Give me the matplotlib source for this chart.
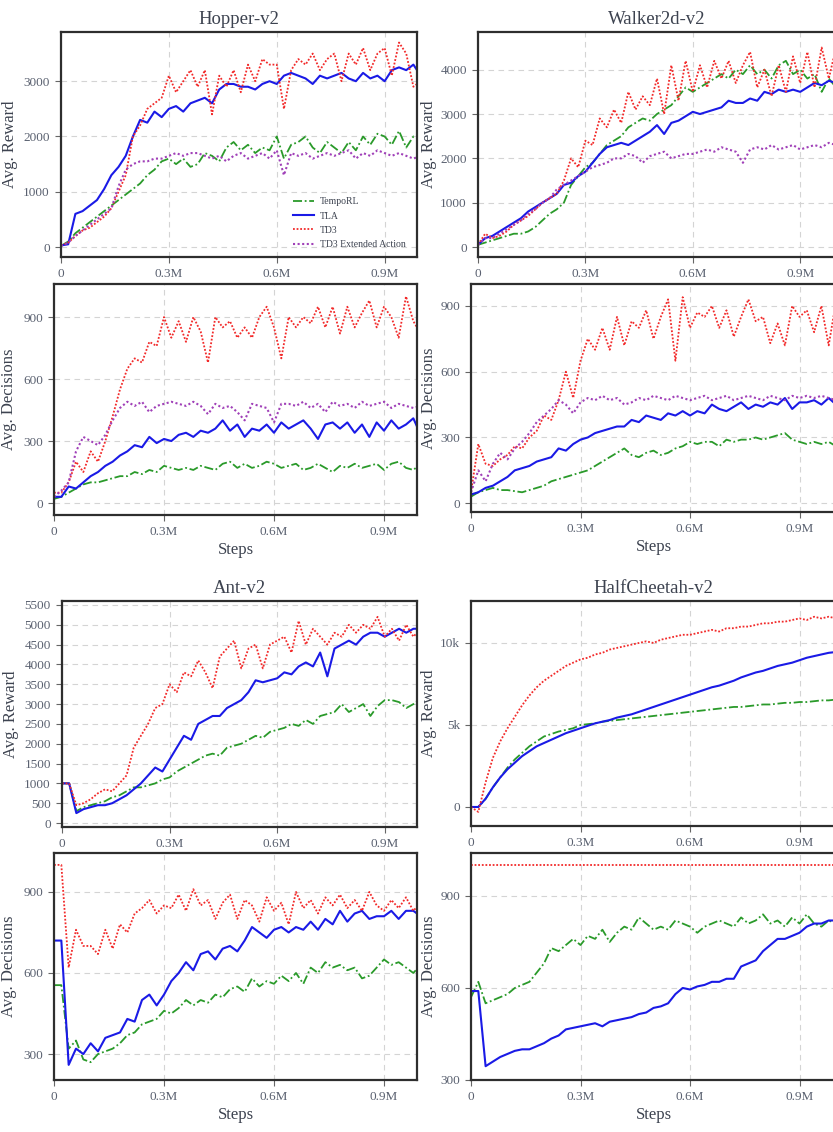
import numpy as np
import matplotlib
matplotlib.use("Agg")
import matplotlib.pyplot as plt
from matplotlib.ticker import FixedLocator, FixedFormatter

plt.rcParams['font.family'] = ['Liberation Serif', 'DejaVu Serif']

# ---------------- data ----------------
STEPS = np.arange(51) * 20000  # 0 .. 1.0M, every 20k steps

SERIES = ["TempoRL", "TLA", "TD3", "TD3 Extended Action"]

# Hopper-v2 reward
hop_rew_tempo = [20, 100, 250, 350, 450, 550, 650, 750, 850, 950, 1050,
                 1150, 1300, 1400, 1550, 1600, 1500, 1600, 1450, 1500, 1700,
                 1650, 1550, 1800, 1900, 1750, 1850, 1700, 1800, 1750, 2000,
                 1600, 1850, 1900, 2000, 1800, 1700, 1900, 1800, 1700, 1900,
                 1750, 2000, 1850, 2050, 2000, 1850, 2100, 1800, 2000, 1950]
hop_rew_tla = [30, 50, 600, 650, 750, 850, 1050, 1300, 1450, 1650, 2000,
               2300, 2250, 2450, 2350, 2500, 2550, 2450, 2600, 2650, 2700,
               2600, 2850, 2950, 2950, 2900, 2900, 2850, 2950, 3000, 2950,
               3100, 3150, 3100, 3050, 2950, 3100, 3050, 3100, 3150, 3050,
               3000, 3150, 3050, 3100, 3000, 3200, 3250, 3200, 3300, 3100]
hop_rew_td3 = [30, 80, 200, 300, 350, 450, 550, 700, 1000, 1300, 2000,
               2200, 2500, 2600, 2700, 3100, 2800, 3000, 3200, 2900, 3200,
               2400, 3100, 2900, 3200, 2800, 3300, 3000, 3400, 3300, 3300,
               2500, 3200, 3400, 3300, 3500, 3200, 3400, 3500, 3000, 3500,
               3300, 3600, 3200, 3500, 3600, 3100, 3700, 3500, 2900, 3000]
hop_rew_ext = [20, 80, 200, 300, 400, 500, 600, 700, 1100, 1400, 1500,
               1550, 1550, 1600, 1600, 1650, 1700, 1650, 1700, 1700, 1650,
               1600, 1650, 1550, 1650, 1700, 1600, 1650, 1700, 1600, 1750,
               1300, 1700, 1650, 1700, 1600, 1650, 1700, 1650, 1700, 1750,
               1600, 1700, 1650, 1750, 1700, 1650, 1700, 1650, 1600, 1650]

# Walker2d-v2 reward
wal_rew_tempo = [50, 100, 150, 200, 250, 300, 300, 350, 450, 600, 750,
                 850, 1000, 1400, 1600, 1800, 1900, 2100, 2300, 2400, 2500,
                 2700, 2800, 2900, 2850, 3000, 3100, 3200, 3400, 3600, 3500,
                 3600, 3700, 3800, 3900, 3800, 4000, 3900, 4100, 3900, 4000,
                 3800, 4100, 4200, 3900, 4000, 3800, 3900, 3500, 3800, 3600]
wal_rew_tla = [50, 200, 250, 350, 450, 550, 650, 800, 900, 1000, 1100,
               1200, 1400, 1450, 1600, 1700, 1900, 2100, 2250, 2300, 2350,
               2300, 2400, 2500, 2600, 2750, 2550, 2800, 2850, 2950, 3050,
               3000, 3050, 3100, 3150, 3300, 3250, 3250, 3350, 3300, 3500,
               3450, 3550, 3500, 3550, 3500, 3600, 3700, 3650, 3750, 3700]
wal_rew_td3 = [50, 300, 200, 250, 350, 500, 600, 700, 850, 1000, 1100,
               1200, 1500, 2000, 1800, 2400, 2300, 2900, 2700, 3100, 2800,
               3500, 3100, 3400, 3200, 3800, 3000, 4100, 3300, 4200, 3500,
               4100, 3600, 4200, 3800, 4200, 3700, 4100, 4400, 3600, 4000,
               3400, 4100, 3500, 4300, 3700, 4400, 3600, 4500, 3800, 4500]
wal_rew_ext = [50, 200, 200, 300, 400, 500, 600, 750, 850, 1000, 1100,
               1300, 1400, 1500, 1600, 1700, 1800, 1850, 1900, 2000, 2000,
               2100, 2050, 1900, 2050, 2100, 2150, 2000, 2050, 2100, 2100,
               2150, 2200, 2150, 2250, 2200, 2150, 1900, 2200, 2250, 2200,
               2300, 2200, 2250, 2300, 2200, 2250, 2300, 2250, 2350, 2300]

# Hopper-v2 decisions
hop_dec_tempo = [20, 30, 50, 70, 90, 100, 100, 110, 120, 130, 130,
                 150, 140, 160, 150, 180, 170, 160, 170, 160, 180,
                 170, 160, 190, 200, 170, 190, 170, 180, 200, 190,
                 170, 180, 190, 160, 170, 190, 170, 150, 180, 170,
                 190, 170, 180, 190, 160, 190, 200, 170, 160, 190]
hop_dec_tla = [30, 30, 80, 70, 100, 130, 150, 180, 200, 230, 250,
               280, 270, 320, 290, 310, 300, 330, 340, 320, 350,
               340, 360, 400, 350, 380, 320, 360, 350, 380, 340,
               390, 360, 380, 400, 360, 310, 380, 390, 360, 390,
               340, 380, 320, 390, 350, 400, 360, 380, 410, 330]
hop_dec_td3 = [50, 50, 100, 200, 150, 250, 200, 300, 420, 550, 650,
               700, 680, 780, 760, 900, 800, 880, 780, 900, 830,
               680, 900, 850, 880, 800, 850, 800, 900, 950, 850,
               700, 900, 850, 900, 870, 950, 850, 950, 820, 950,
               850, 920, 980, 850, 950, 900, 800, 1000, 880, 820]
hop_dec_ext = [30, 60, 100, 250, 320, 300, 280, 330, 400, 460, 490,
               470, 490, 440, 470, 480, 490, 480, 470, 490, 470,
               430, 480, 460, 470, 440, 400, 480, 470, 460, 390,
               480, 480, 470, 490, 460, 480, 440, 490, 470, 480,
               460, 490, 470, 480, 490, 460, 480, 470, 460, 470]

# Walker2d-v2 decisions
wal_dec_tempo = [30, 50, 60, 70, 60, 60, 55, 50, 60, 70, 80,
                 100, 110, 120, 130, 140, 150, 170, 190, 210, 230,
                 250, 220, 210, 230, 240, 220, 230, 250, 260, 280,
                 270, 280, 280, 260, 290, 280, 290, 290, 300, 290,
                 300, 310, 320, 290, 280, 270, 280, 270, 280, 260]
wal_dec_tla = [40, 50, 70, 80, 100, 120, 150, 160, 170, 190, 200,
               210, 250, 240, 270, 290, 300, 320, 330, 340, 350,
               350, 380, 370, 400, 390, 380, 410, 400, 420, 400,
               420, 410, 450, 430, 420, 440, 460, 430, 450, 440,
               460, 450, 480, 430, 460, 460, 470, 450, 480, 450]
wal_dec_td3 = [50, 270, 180, 170, 200, 220, 260, 250, 300, 330, 400,
               380, 470, 600, 480, 650, 750, 700, 800, 700, 850,
               720, 830, 800, 880, 750, 850, 930, 650, 940, 800,
               870, 850, 900, 800, 880, 760, 850, 930, 830, 850,
               730, 820, 720, 900, 850, 880, 780, 900, 720, 920]
wal_dec_ext = [50, 150, 100, 180, 230, 200, 250, 280, 320, 370, 400,
               430, 470, 450, 410, 460, 480, 470, 490, 470, 480,
               450, 460, 480, 470, 490, 480, 470, 490, 480, 470,
               480, 490, 470, 480, 490, 470, 480, 490, 480, 470,
               490, 480, 470, 490, 480, 490, 480, 490, 480, 470]

# Ant-v2 reward
ant_rew_tempo = [1000, 1000, 300, 400, 450, 500, 550, 650, 700, 800, 900,
                 900, 950, 1000, 1100, 1150, 1300, 1400, 1500, 1600, 1700,
                 1750, 1700, 1900, 1950, 2000, 2100, 2200, 2150, 2300, 2350,
                 2400, 2500, 2450, 2600, 2500, 2700, 2750, 2800, 3000, 2800,
                 2900, 3000, 2700, 2950, 3100, 3100, 3050, 2900, 3000, 3150]
ant_rew_tla = [1000, 1000, 250, 350, 400, 450, 450, 500, 600, 700, 850,
               1000, 1200, 1400, 1300, 1600, 1900, 2200, 2100, 2500, 2600,
               2700, 2700, 2900, 3000, 3100, 3300, 3600, 3550, 3600, 3650,
               3800, 3750, 3950, 4050, 3950, 4300, 3700, 4400, 4500, 4600,
               4500, 4700, 4800, 4800, 4700, 4800, 4900, 4800, 4900, 4900]
ant_rew_td3 = [1000, 1000, 450, 500, 600, 750, 850, 800, 1000, 1200, 1900,
               2200, 2500, 2900, 3000, 3500, 3300, 3800, 3700, 4100, 3800,
               3400, 4200, 4400, 4600, 3900, 4400, 4500, 3900, 4500, 4600,
               4700, 4300, 5100, 4500, 4900, 4700, 4500, 4800, 4700, 5000,
               4800, 5000, 4900, 5200, 4700, 4900, 4600, 5000, 4700, 4900]

# HalfCheetah-v2 reward
hc_rew_tempo = [0, 0, 500, 1200, 1800, 2400, 2900, 3300, 3700, 4000, 4300,
                4450, 4600, 4700, 4800, 5000, 5050, 5100, 5200, 5250, 5300,
                5350, 5400, 5450, 5500, 5550, 5600, 5650, 5700, 5750, 5800,
                5850, 5900, 5950, 6000, 6050, 6100, 6100, 6150, 6200, 6250,
                6250, 6300, 6350, 6350, 6400, 6400, 6450, 6500, 6500, 6550]
hc_rew_tla = [0, 0, 500, 1200, 1800, 2300, 2700, 3100, 3400, 3700, 3900,
              4100, 4300, 4500, 4650, 4800, 4950, 5100, 5200, 5300, 5450,
              5550, 5650, 5800, 5950, 6100, 6250, 6400, 6550, 6700, 6850,
              7000, 7150, 7300, 7400, 7550, 7700, 7900, 8050, 8200, 8300,
              8450, 8600, 8700, 8800, 8950, 9100, 9200, 9300, 9400, 9450]
hc_rew_td3 = [0, -300, 1500, 3000, 4000, 4800, 5500, 6200, 6800, 7300, 7700,
              8000, 8300, 8600, 8800, 9000, 9100, 9300, 9400, 9600, 9700,
              9800, 9900, 10000, 10100, 10000, 10200, 10300, 10400, 10500, 10500,
              10600, 10700, 10800, 10700, 10900, 10900, 11000, 11000, 11100, 11200,
              11200, 11300, 11300, 11400, 11500, 11400, 11600, 11500, 11600, 11500]

# Ant-v2 decisions
ant_dec_tempo = [555, 555, 320, 350, 280, 270, 300, 310, 320, 340, 370,
                 380, 410, 420, 430, 460, 450, 470, 500, 480, 500,
                 490, 520, 510, 540, 550, 530, 580, 550, 570, 560,
                 590, 570, 600, 560, 620, 600, 640, 620, 630, 610,
                 620, 580, 590, 620, 650, 630, 640, 620, 600, 630]
ant_dec_tla = [720, 720, 260, 320, 300, 340, 310, 360, 370, 380, 430,
               420, 500, 520, 480, 520, 570, 600, 640, 610, 670,
               680, 650, 690, 700, 680, 720, 770, 750, 730, 760,
               770, 750, 770, 760, 790, 760, 800, 780, 830, 790,
               820, 830, 800, 810, 810, 830, 800, 830, 830, 810]
ant_dec_td3 = [1000, 1000, 620, 760, 700, 700, 670, 760, 690, 780, 750,
               820, 840, 870, 820, 850, 840, 890, 830, 910, 850,
               870, 800, 860, 890, 800, 870, 850, 790, 880, 830,
               860, 780, 900, 840, 870, 820, 880, 850, 890, 840,
               870, 830, 900, 850, 830, 870, 840, 880, 830, 860]

# HalfCheetah-v2 decisions
hc_dec_tempo = [570, 620, 550, 560, 570, 580, 600, 610, 620, 650, 680,
                730, 720, 740, 760, 740, 770, 760, 790, 750, 780,
                800, 790, 830, 810, 790, 800, 790, 820, 810, 800,
                780, 800, 810, 820, 810, 800, 830, 810, 820, 840,
                810, 820, 800, 830, 810, 840, 810, 800, 820, 810]
hc_dec_tla = [590, 590, 345, 360, 375, 385, 395, 400, 400, 410, 420,
              435, 445, 465, 470, 475, 480, 485, 475, 490, 495,
              500, 505, 515, 520, 535, 540, 550, 580, 600, 595,
              605, 610, 620, 620, 630, 630, 670, 680, 690, 720,
              740, 760, 760, 770, 780, 800, 810, 810, 820, 820]
hc_dec_td3 = [1000, 1000, 1000, 1000, 1000, 1000, 1000, 1000, 1000, 1000, 1000,
              1000, 1000, 1000, 1000, 1000, 1000, 1000, 1000, 1000, 1000,
              1000, 1000, 1000, 1000, 1000, 1000, 1000, 1000, 1000, 1000,
              1000, 1000, 1000, 1000, 1000, 1000, 1000, 1000, 1000, 1000,
              1000, 1000, 1000, 1000, 1000, 1000, 1000, 1000, 1000, 1000]

XTICKS = [0, 300000, 600000, 900000]
XTICKLABELS = ["0", "0.3M", "0.6M", "0.9M"]

# ---------------- styling ----------------
STYLE = {
    "TempoRL": dict(color="#2a9a2a", ls=(0, (5, 1.5, 1, 1.5)), lw=1.3),
    "TLA": dict(color="#1a1ae6", ls="-", lw=1.5),
    "TD3": dict(color="#f22a2a", ls=(0, (1, 1)), lw=1.3),
    "TD3 Extended Action": dict(color="#a040b8", ls=(0, (1, 1.2)), lw=1.5),
}
TXT = "#3d4350"
TICKC = "#5a6170"

W, H = 833, 1132
fig = plt.figure(figsize=(W / 100, H / 100), dpi=100)
fig.patch.set_facecolor("white")


def make_ax(l, r, t, b):
    return fig.add_axes([l / W, 1 - b / H, (r - l) / W, (b - t) / H])


def style_ax(ax, ylim, yticks, yticklabels, ylabel, xlim_right, xlabel=None,
             title=None, ypad=4):
    ax.set_xlim(0, xlim_right)
    ax.set_ylim(*ylim)
    ax.xaxis.set_major_locator(FixedLocator(XTICKS))
    ax.xaxis.set_major_formatter(FixedFormatter(XTICKLABELS))
    ax.yaxis.set_major_locator(FixedLocator(yticks))
    ax.yaxis.set_major_formatter(FixedFormatter(yticklabels))
    ax.grid(True, color="#d4d4d4", ls=(0, (5, 4)), lw=0.8)
    ax.set_axisbelow(True)
    for sp in ax.spines.values():
        sp.set_color("#2e2e2e")
        sp.set_linewidth(1.6)
    ax.tick_params(axis="both", labelsize=9.5, colors=TICKC, length=4, width=0.8,
                   direction="out", pad=4)
    ax.tick_params(axis="both", which="both", color="#666666")
    ax.set_ylabel(ylabel, fontsize=12, color=TXT, labelpad=ypad)
    if xlabel:
        ax.set_xlabel(xlabel, fontsize=12, color=TXT, labelpad=3)
    if title:
        ax.set_title(title, fontsize=13.5, color=TXT, pad=6)


def draw(ax, names, data):
    for n, d in zip(names, data):
        st = STYLE[n]
        ax.plot(STEPS, d, color=st["color"], ls=st["ls"], lw=st["lw"], label=n)


LEFT_XR = 990000
RIGHT_XR = 1000000

# Row 1
ax1 = make_ax(61, 417, 32, 257)
draw(ax1, SERIES, [hop_rew_tempo, hop_rew_tla, hop_rew_td3, hop_rew_ext])
style_ax(ax1, (-180, 3890), [0, 1000, 2000, 3000], ["0", "1000", "2000", "3000"],
         "Avg. Reward", LEFT_XR, title="Hopper-v2")
leg = ax1.legend(loc="lower right", bbox_to_anchor=(0.99, 0.0), frameon=False,
                 fontsize=7, handlelength=2.2, handletextpad=0.6, labelspacing=0.55,
                 borderaxespad=0.4)
for t in leg.get_texts():
    t.set_color(TXT)

ax2 = make_ax(478, 836, 32, 257)
draw(ax2, SERIES, [wal_rew_tempo, wal_rew_tla, wal_rew_td3, wal_rew_ext])
style_ax(ax2, (-225, 4850), [0, 1000, 2000, 3000, 4000],
         ["0", "1000", "2000", "3000", "4000"], "Avg. Reward", RIGHT_XR,
         title="Walker2d-v2", ypad=2)

# Row 2
ax3 = make_ax(54, 417, 284, 515)
draw(ax3, SERIES, [hop_dec_tempo, hop_dec_tla, hop_dec_td3, hop_dec_ext])
style_ax(ax3, (-58, 1060), [0, 300, 600, 900], ["0", "300", "600", "900"],
         "Avg. Decisions", LEFT_XR, xlabel="Steps")

ax4 = make_ax(471, 836, 284, 512)
draw(ax4, SERIES, [wal_dec_tempo, wal_dec_tla, wal_dec_td3, wal_dec_ext])
style_ax(ax4, (-40, 1000), [0, 300, 600, 900], ["0", "300", "600", "900"],
         "Avg. Decisions", RIGHT_XR, xlabel="Steps", ypad=2)

# Row 3
ax5 = make_ax(62, 417, 601, 827)
draw(ax5, SERIES[:3], [ant_rew_tempo, ant_rew_tla, ant_rew_td3])
ant_ticks = [0, 500, 1000, 1500, 2000, 2500, 3000, 3500, 4000, 4500, 5000, 5500]
style_ax(ax5, (-100, 5600), ant_ticks, [str(v) for v in ant_ticks],
         "Avg. Reward", LEFT_XR, title="Ant-v2")

ax6 = make_ax(471, 836, 601, 826)
draw(ax6, SERIES[:3], [hc_rew_tempo, hc_rew_tla, hc_rew_td3])
style_ax(ax6, (-1160, 12560), [0, 5000, 10000], ["0", "5k", "10k"],
         "Avg. Reward", RIGHT_XR, title="HalfCheetah-v2", ypad=2)

# Row 4
ax7 = make_ax(54, 417, 853, 1080)
draw(ax7, SERIES[:3], [ant_dec_tempo, ant_dec_tla, ant_dec_td3])
style_ax(ax7, (204, 1044), [300, 600, 900], ["300", "600", "900"],
         "Avg. Decisions", LEFT_XR, xlabel="Steps")

ax8 = make_ax(471, 836, 853, 1080)
draw(ax8, SERIES[:3], [hc_dec_tempo, hc_dec_tla, hc_dec_td3])
style_ax(ax8, (300, 1040), [300, 600, 900], ["300", "600", "900"],
         "Avg. Decisions", RIGHT_XR, xlabel="Steps", ypad=2)

fig.savefig("out.png", dpi=100)
